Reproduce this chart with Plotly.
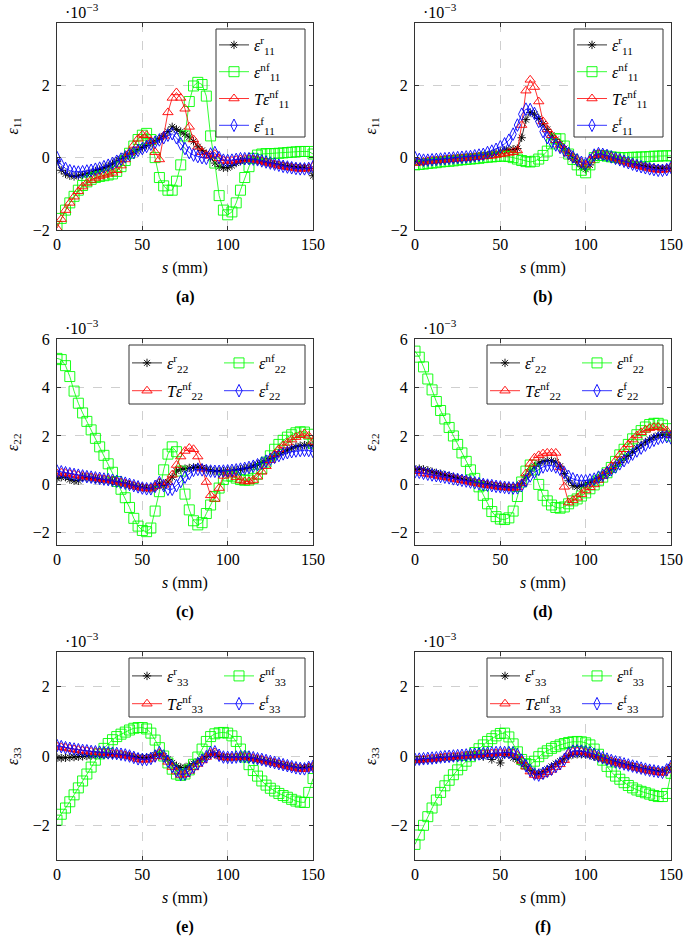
import plotly.graph_objects as go

# ---------------- data (strain values in units of 1e-3) ----------------
s_mm = [0, 2.5, 5, 7.5, 10, 12.5, 15, 17.5, 20, 22.5,
        25, 27.5, 30, 32.5, 35, 37.5, 40, 42.5, 45, 47.5,
        50, 52.5, 55, 57.5, 60, 62.5, 65, 67.5, 70, 72.5,
        75, 77.5, 80, 82.5, 85, 87.5, 90, 92.5, 95, 97.5,
        100, 102.5, 105, 107.5, 110, 112.5, 115, 117.5, 120, 122.5,
        125, 127.5, 130, 132.5, 135, 137.5, 140, 142.5, 145, 147.5,
        150]

# panel (a): eps_11
a_r = [-0.10, -0.35, -0.45, -0.50, -0.52, -0.50, -0.48, -0.45, -0.42, -0.37,
       -0.33, -0.28, -0.23, -0.17, -0.10, -0.03, 0.04, 0.10, 0.16, 0.22,
       0.28, 0.34, 0.40, 0.46, 0.52, 0.60, 0.72, 0.85, 0.78, 0.72,
       0.65, 0.57, 0.45, 0.30, 0.20, 0.11, 0.00, -0.15, -0.25, -0.28,
       -0.28, -0.22, -0.15, -0.10, -0.08, -0.06, -0.06, -0.08, -0.10, -0.13,
       -0.16, -0.18, -0.20, -0.22, -0.24, -0.25, -0.26, -0.27, -0.28, -0.30,
       -0.50]
a_nf = [-1.90, -1.68, -1.45, -1.25, -1.07, -0.90, -0.77, -0.67, -0.60, -0.55,
        -0.52, -0.50, -0.48, -0.45, -0.38, -0.25, -0.08, 0.12, 0.32, 0.50,
        0.62, 0.67, 0.50, 0.00, -0.55, -0.78, -0.90, -0.90, -0.65, -0.20,
        0.60, 1.55, 1.98, 2.08, 2.02, 1.70, 0.60, -0.15, -1.05, -1.45,
        -1.58, -1.50, -1.25, -0.90, -0.55, -0.25, -0.02, 0.07, 0.10, 0.11,
        0.11, 0.11, 0.12, 0.13, 0.14, 0.15, 0.16, 0.17, 0.17, 0.17,
        0.10]
a_T = [-1.95, -1.70, -1.45, -1.25, -1.08, -0.93, -0.80, -0.70, -0.62, -0.56,
       -0.52, -0.48, -0.45, -0.42, -0.35, -0.22, -0.05, 0.15, 0.35, 0.52,
       0.63, 0.62, 0.45, 0.15, -0.05, 0.60, 1.25, 1.65, 1.80, 1.65,
       1.35, 0.85, 0.50, 0.30, 0.15, 0.07, 0.05, 0.10, -0.02, -0.08,
       -0.10, -0.09, -0.07, -0.05, -0.04, -0.04, -0.05, -0.07, -0.10, -0.13,
       -0.16, -0.19, -0.22, -0.24, -0.26, -0.28, -0.30, -0.31, -0.31, -0.29,
       -0.25]
a_f = [0.00, -0.20, -0.30, -0.36, -0.39, -0.40, -0.39, -0.37, -0.35, -0.32,
       -0.29, -0.25, -0.21, -0.16, -0.10, -0.04, 0.02, 0.08, 0.14, 0.20,
       0.25, 0.31, 0.37, 0.43, 0.49, 0.55, 0.62, 0.66, 0.55, 0.38,
       0.25, 0.14, 0.07, 0.03, 0.00, -0.02, 0.10, 0.14, 0.00, -0.07,
       -0.08, -0.07, -0.05, -0.03, -0.03, -0.03, -0.04, -0.06, -0.09, -0.12,
       -0.15, -0.18, -0.21, -0.24, -0.26, -0.28, -0.30, -0.31, -0.31, -0.30,
       -0.25]

# panel (b): eps_11
b_r = [-0.10, -0.12, -0.12, -0.10, -0.09, -0.08, -0.07, -0.06, -0.05, -0.04,
       -0.03, -0.02, -0.01, 0.00, 0.01, 0.03, 0.05, 0.07, 0.10, 0.13,
       0.17, 0.20, 0.22, 0.23, 0.25, 0.55, 1.05, 1.25, 1.20, 1.08,
       0.93, 0.78, 0.62, 0.50, 0.38, 0.25, 0.12, -0.02, -0.12, -0.25,
       -0.32, -0.20, -0.02, 0.06, 0.05, 0.02, -0.02, -0.05, -0.08, -0.11,
       -0.14, -0.17, -0.20, -0.22, -0.24, -0.26, -0.28, -0.29, -0.30, -0.30,
       -0.28]
b_nf = [-0.20, -0.19, -0.18, -0.16, -0.15, -0.14, -0.12, -0.11, -0.10, -0.09,
        -0.07, -0.06, -0.05, -0.04, -0.03, -0.02, 0.00, 0.01, 0.02, 0.03,
        0.04, 0.04, 0.03, 0.00, -0.04, -0.08, -0.11, -0.12, -0.10, -0.04,
        0.06, 0.18, 0.38, 0.52, 0.52, 0.32, 0.10, -0.05, -0.20, -0.35,
        -0.42, -0.20, 0.00, 0.06, 0.06, 0.04, 0.02, 0.01, 0.00, 0.00,
        0.00, 0.01, 0.01, 0.02, 0.02, 0.03, 0.04, 0.04, 0.05, 0.05,
        0.05]
b_T = [-0.15, -0.14, -0.12, -0.10, -0.09, -0.08, -0.07, -0.06, -0.05, -0.04,
       -0.03, -0.02, -0.01, 0.00, 0.01, 0.02, 0.03, 0.04, 0.05, 0.07,
       0.09, 0.11, 0.13, 0.15, 0.20, 0.90, 1.85, 2.15, 1.95, 1.55,
       1.00, 0.78, 0.62, 0.48, 0.35, 0.22, 0.12, 0.02, -0.06, -0.14,
       -0.20, -0.08, 0.06, 0.10, 0.08, 0.05, 0.02, -0.02, -0.06, -0.10,
       -0.14, -0.18, -0.21, -0.24, -0.27, -0.30, -0.32, -0.34, -0.34, -0.32,
       -0.27]
b_f = [0.00, -0.05, -0.07, -0.07, -0.06, -0.05, -0.04, -0.03, -0.02, -0.01,
       0.00, 0.01, 0.02, 0.03, 0.05, 0.07, 0.09, 0.14, 0.18, 0.23,
       0.30, 0.38, 0.48, 0.65, 0.90, 1.20, 1.34, 1.33, 1.22, 1.00,
       0.72, 0.55, 0.43, 0.35, 0.28, 0.20, 0.12, 0.02, -0.06, -0.13,
       -0.17, -0.07, 0.07, 0.11, 0.09, 0.06, 0.02, -0.02, -0.06, -0.10,
       -0.14, -0.18, -0.22, -0.25, -0.28, -0.31, -0.33, -0.35, -0.35, -0.33,
       -0.27]

# panel (c): eps_22
c_r = [0.25, 0.30, 0.30, 0.20, 0.15, 0.15, 0.30, 0.28, 0.26, 0.23,
       0.20, 0.18, 0.16, 0.13, 0.10, 0.06, 0.02, -0.02, -0.06, -0.10,
       -0.12, -0.15, -0.17, -0.10, 0.05, -0.05, 0.10, 0.30, 0.55, 0.62,
       0.65, 0.68, 0.70, 0.72, 0.68, 0.62, 0.58, 0.55, 0.55, 0.55,
       0.56, 0.57, 0.60, 0.62, 0.66, 0.70, 0.76, 0.82, 0.90, 0.98,
       1.07, 1.16, 1.25, 1.34, 1.42, 1.50, 1.56, 1.60, 1.62, 1.63,
       1.60]
c_nf = [5.20, 5.15, 4.90, 4.45, 3.85, 3.35, 2.95, 2.60, 2.25, 1.90,
        1.55, 1.20, 0.85, 0.50, 0.12, -0.20, -0.55, -0.95, -1.40, -1.72,
        -1.90, -1.95, -1.80, -1.10, -0.30, 0.60, 1.25, 1.55, 1.35, 0.55,
        -0.40, -1.05, -1.50, -1.67, -1.58, -1.20, -0.85, -0.50, -0.15, 0.20,
        0.35, 0.34, 0.26, 0.20, 0.17, 0.18, 0.25, 0.42, 0.65, 0.92,
        1.18, 1.45, 1.65, 1.82, 1.95, 2.05, 2.13, 2.17, 2.16, 2.07,
        1.70]
c_T = [0.45, 0.48, 0.46, 0.43, 0.40, 0.37, 0.34, 0.31, 0.29, 0.26,
       0.24, 0.21, 0.19, 0.16, 0.12, 0.08, 0.04, -0.01, -0.06, -0.10,
       -0.14, -0.17, -0.17, -0.08, 0.08, -0.02, 0.10, 0.40, 0.80, 1.15,
       1.38, 1.50, 1.45, 1.15, 0.65, 0.10, -0.45, -0.60, -0.15, 0.35,
       0.45, 0.40, 0.30, 0.18, 0.12, 0.12, 0.18, 0.32, 0.52, 0.75,
       1.00, 1.25, 1.45, 1.60, 1.72, 1.85, 1.95, 2.03, 2.10, 2.00,
       1.75]
c_f = [0.55, 0.52, 0.48, 0.44, 0.41, 0.38, 0.35, 0.32, 0.30, 0.27,
       0.25, 0.22, 0.20, 0.17, 0.13, 0.09, 0.05, 0.00, -0.05, -0.10,
       -0.15, -0.18, -0.18, -0.08, 0.08, -0.05, -0.20, -0.20, -0.05, 0.12,
       0.30, 0.45, 0.58, 0.62, 0.60, 0.57, 0.55, 0.54, 0.54, 0.55,
       0.56, 0.58, 0.60, 0.63, 0.66, 0.70, 0.75, 0.81, 0.88, 0.96,
       1.04, 1.12, 1.19, 1.26, 1.31, 1.35, 1.38, 1.40, 1.41, 1.40,
       1.36]

# panel (d): eps_22
d_r = [0.60, 0.65, 0.62, 0.58, 0.52, 0.48, 0.44, 0.38, 0.35, 0.30,
       0.26, 0.22, 0.18, 0.14, 0.10, 0.06, 0.03, 0.00, -0.03, -0.06,
       -0.08, -0.10, -0.12, -0.13, -0.10, 0.05, 0.30, 0.55, 0.75, 0.88,
       0.95, 0.98, 0.98, 0.92, 0.75, 0.45, 0.15, -0.05, -0.10, -0.05,
       0.00, 0.08, 0.15, 0.25, 0.35, 0.47, 0.60, 0.75, 0.90, 1.05,
       1.20, 1.35, 1.50, 1.63, 1.75, 1.86, 1.95, 2.02, 2.06, 2.07,
       2.03]
d_nf = [5.50, 5.25, 4.85, 4.35, 3.90, 3.42, 3.05, 2.70, 2.35, 2.00,
        1.65, 1.30, 0.95, 0.60, 0.25, -0.10, -0.45, -0.80, -1.12, -1.33,
        -1.43, -1.45, -1.38, -1.10, -0.50, 0.10, 0.55, 0.80, 0.60, 0.00,
        -0.45, -0.68, -0.85, -0.95, -0.98, -0.93, -0.80, -0.68, -0.60, -0.48,
        -0.35, -0.18, -0.02, 0.15, 0.30, 0.48, 0.70, 0.95, 1.22, 1.45,
        1.65, 1.88, 2.05, 2.22, 2.37, 2.47, 2.52, 2.52, 2.45, 2.30,
        2.00]
d_T = [0.55, 0.55, 0.47, 0.43, 0.40, 0.37, 0.33, 0.30, 0.27, 0.23,
       0.20, 0.17, 0.14, 0.10, 0.06, 0.03, 0.00, -0.03, -0.05, -0.08,
       -0.10, -0.12, -0.14, -0.15, -0.12, 0.05, 0.45, 0.85, 1.10, 1.20,
       1.27, 1.30, 1.30, 1.30, 0.70, -0.10, -0.75, -0.65, -0.55, -0.40,
       -0.25, -0.12, 0.00, 0.18, 0.35, 0.55, 0.75, 0.98, 1.22, 1.45,
       1.65, 1.85, 2.02, 2.15, 2.25, 2.32, 2.36, 2.37, 2.33, 2.22,
       2.03]
d_f = [0.52, 0.50, 0.46, 0.42, 0.39, 0.36, 0.33, 0.30, 0.27, 0.23,
       0.20, 0.17, 0.14, 0.10, 0.07, 0.03, 0.00, -0.03, -0.05, -0.08,
       -0.10, -0.12, -0.14, -0.15, -0.14, -0.05, 0.15, 0.35, 0.50, 0.62,
       0.72, 0.78, 0.78, 0.72, 0.62, 0.48, 0.33, 0.23, 0.17, 0.15,
       0.15, 0.18, 0.22, 0.30, 0.38, 0.48, 0.60, 0.72, 0.85, 0.98,
       1.12, 1.25, 1.38, 1.50, 1.62, 1.73, 1.82, 1.90, 1.95, 1.97,
       1.92]

# panel (e): eps_33
e_r = [-0.05, -0.06, -0.05, -0.04, -0.03, -0.02, -0.01, 0.00, 0.01, 0.02,
       0.03, 0.03, 0.04, 0.04, 0.04, 0.03, 0.02, 0.00, -0.02, -0.04,
       -0.05, -0.05, -0.03, 0.02, 0.07, 0.00, -0.10, -0.20, -0.28, -0.33,
       -0.33, -0.28, -0.22, -0.15, -0.08, -0.02, 0.05, 0.05, -0.01, -0.03,
       -0.04, -0.04, -0.04, -0.04, -0.05, -0.06, -0.08, -0.10, -0.12, -0.15,
       -0.18, -0.20, -0.23, -0.26, -0.29, -0.31, -0.33, -0.34, -0.34, -0.32,
       -0.30]
e_nf = [-1.85, -1.68, -1.50, -1.32, -1.12, -0.92, -0.72, -0.52, -0.32, -0.12,
        0.06, 0.22, 0.36, 0.47, 0.56, 0.63, 0.69, 0.75, 0.80, 0.82,
        0.82, 0.78, 0.66, 0.46, 0.24, 0.00, -0.20, -0.38, -0.52, -0.56,
        -0.52, -0.40, -0.24, -0.03, 0.20, 0.42, 0.56, 0.64, 0.67, 0.68,
        0.66, 0.58, 0.42, 0.20, -0.03, -0.25, -0.42, -0.58, -0.72, -0.84,
        -0.93, -1.01, -1.08, -1.14, -1.19, -1.25, -1.30, -1.33, -1.34, -1.05,
        -0.65]
e_T = [0.27, 0.25, 0.23, 0.21, 0.19, 0.17, 0.15, 0.14, 0.12, 0.11,
       0.10, 0.09, 0.08, 0.07, 0.06, 0.04, 0.02, -0.01, -0.05, -0.09,
       -0.11, -0.11, -0.08, -0.01, 0.08, -0.02, -0.17, -0.32, -0.45, -0.55,
       -0.53, -0.43, -0.33, -0.23, -0.13, -0.03, 0.08, 0.10, 0.01, -0.04,
       -0.05, -0.05, -0.04, -0.03, -0.03, -0.04, -0.06, -0.09, -0.11, -0.14,
       -0.17, -0.20, -0.23, -0.26, -0.29, -0.32, -0.35, -0.37, -0.38, -0.34,
       -0.31]
e_f = [0.30, 0.27, 0.24, 0.22, 0.20, 0.18, 0.16, 0.15, 0.13, 0.12,
       0.11, 0.10, 0.09, 0.08, 0.07, 0.05, 0.03, 0.00, -0.04, -0.08,
       -0.10, -0.10, -0.07, 0.00, 0.10, 0.00, -0.15, -0.30, -0.43, -0.53,
       -0.52, -0.42, -0.32, -0.22, -0.12, -0.02, 0.10, 0.12, 0.02, -0.03,
       -0.04, -0.04, -0.03, -0.02, -0.02, -0.03, -0.05, -0.08, -0.10, -0.13,
       -0.16, -0.19, -0.22, -0.25, -0.28, -0.31, -0.34, -0.36, -0.37, -0.33,
       -0.30]

# panel (f): eps_33
f_r = [-0.12, -0.12, -0.10, -0.10, -0.08, -0.08, -0.05, -0.05, -0.05, -0.04,
       -0.03, -0.02, 0.00, 0.00, 0.02, 0.02, -0.02, 0.05, -0.10, 0.05,
       -0.20, 0.05, 0.05, -0.05, -0.10, -0.20, -0.30, -0.42, -0.50, -0.50,
       -0.45, -0.38, -0.30, -0.22, -0.15, -0.08, 0.00, 0.04, 0.05, 0.05,
       0.04, 0.02, -0.02, -0.05, -0.08, -0.12, -0.15, -0.18, -0.21, -0.24,
       -0.27, -0.30, -0.33, -0.36, -0.38, -0.40, -0.42, -0.44, -0.45, -0.40,
       -0.32]
f_nf = [-2.55, -2.28, -2.00, -1.75, -1.50, -1.27, -1.05, -0.86, -0.70, -0.54,
        -0.40, -0.27, -0.15, -0.02, 0.10, 0.21, 0.32, 0.42, 0.50, 0.58,
        0.65, 0.66, 0.55, 0.35, 0.12, -0.10, -0.22, -0.25, -0.15, -0.02,
        0.08, 0.15, 0.22, 0.27, 0.32, 0.36, 0.39, 0.41, 0.42, 0.41,
        0.38, 0.32, 0.20, 0.05, -0.12, -0.30, -0.46, -0.58, -0.67, -0.77,
        -0.85, -0.92, -0.98, -1.02, -1.06, -1.10, -1.14, -1.17, -1.17, -1.08,
        -0.50]
f_T = [-0.12, -0.11, -0.10, -0.09, -0.08, -0.07, -0.05, -0.04, -0.03, -0.02,
       -0.01, 0.00, 0.01, 0.02, 0.03, 0.04, 0.05, 0.06, 0.07, 0.08,
       0.08, 0.08, 0.08, 0.07, 0.02, -0.14, -0.31, -0.45, -0.55, -0.58,
       -0.53, -0.47, -0.40, -0.32, -0.24, -0.12, 0.06, 0.12, 0.13, 0.12,
       0.10, 0.07, 0.03, -0.02, -0.07, -0.11, -0.15, -0.19, -0.22, -0.25,
       -0.28, -0.31, -0.34, -0.37, -0.40, -0.43, -0.45, -0.47, -0.49, -0.42,
       -0.32]
f_f = [-0.10, -0.09, -0.08, -0.07, -0.06, -0.05, -0.03, -0.02, -0.01, 0.00,
       0.01, 0.02, 0.03, 0.04, 0.05, 0.06, 0.07, 0.08, 0.09, 0.10,
       0.10, 0.10, 0.10, 0.09, 0.04, -0.12, -0.28, -0.42, -0.52, -0.55,
       -0.50, -0.44, -0.38, -0.30, -0.22, -0.10, 0.08, 0.14, 0.15, 0.14,
       0.12, 0.09, 0.05, 0.00, -0.05, -0.09, -0.13, -0.17, -0.20, -0.23,
       -0.26, -0.29, -0.32, -0.35, -0.38, -0.41, -0.43, -0.45, -0.47, -0.40,
       -0.30]

panel_labels = ["(a)", "(b)", "(c)", "(d)", "(e)", "(f)"]
components = ["11", "11", "22", "22", "33", "33"]
x_ticks = [0, 50, 100, 150]
y_ranges = [[-2, 3.72], [-2.5, 6], [-3, 3]]
y_ticks = [[-2, 0, 2], [-2, 0, 2, 4, 6], [-2, 0, 2]]

panels = [
    (a_r, a_nf, a_T, a_f),
    (b_r, b_nf, b_T, b_f),
    (c_r, c_nf, c_T, c_f),
    (d_r, d_nf, d_T, d_f),
    (e_r, e_nf, e_T, e_f),
    (f_r, f_nf, f_T, f_f),
]
for p in panels:
    for arr in p:
        assert len(arr) == len(s_mm), len(arr)

# ---------------- layout geometry (screen pixels) ----------------
W, H = 685, 936
cols = [(57, 313), (415, 671)]
rows = [(23, 230), (339, 545), (652, 860)]
FONT = "Liberation Serif, DejaVu Serif, serif"
FS = 16

def px_x(v):
    return v / W

def px_y(v):
    return 1 - v / H

styles = [
    dict(color="#000000", symbol="asterisk-open", size=7),
    dict(color="#00ff00", symbol="square-open", size=10),
    dict(color="#ff0000", symbol="triangle-up-open", size=9),
    dict(color="#0000ff", symbol="diamond-tall-open", size=9),
]

fig = go.Figure()
layout = dict(
    width=W, height=H,
    margin=dict(l=0, r=0, t=0, b=0, pad=0, autoexpand=False),
    paper_bgcolor="white", plot_bgcolor="white",
    font=dict(family=FONT, size=FS, color="black"),
    showlegend=True,
)
annotations = []
shapes = []

def note(text, x, y, xanchor="center", yanchor="middle", **kw):
    annotations.append(dict(text=text, xref="paper", yref="paper", x=x, y=y,
                            xanchor=xanchor, yanchor=yanchor, showarrow=False,
                            font=dict(family=FONT, size=FS, color="black"), **kw))

for k in range(6):
    r, c = divmod(k, 2)
    x0, x1 = cols[c]
    y0, y1 = rows[r]
    sfx = "" if k == 0 else str(k + 1)
    comp = components[k]
    names = [
        f"<i>ε</i><sup>r</sup><sub>{comp}</sub>",
        f"<i>ε</i><sup>nf</sup><sub>{comp}</sub>",
        f"<i>T</i><i>ε</i><sup>nf</sup><sub>{comp}</sub>",
        f"<i>ε</i><sup>f</sup><sub>{comp}</sub>",
    ]
    if r == 0:
        legends = ["legend" + sfx] * 4
    else:
        l1 = "legend" + str(10 + 2 * k)
        l2 = "legend" + str(11 + 2 * k)
        legends = [l1, l2, l1, l2]

    for j, (vals, st) in enumerate(zip(panels[k], styles)):
        fig.add_trace(go.Scatter(
            x=s_mm, y=vals, mode="lines+markers", name=names[j],
            xaxis="x" + sfx, yaxis="y" + sfx,
            line=dict(color=st["color"], width=0.8),
            marker=dict(symbol=st["symbol"], size=st["size"], color=st["color"],
                        line=dict(color=st["color"], width=0.9)),
            legend=legends[j], legendgroup=f"g{k}_{j}",
        ))

    ax = dict(
        showline=True, mirror="allticks", linecolor="#333333", linewidth=1,
        ticks="inside", ticklen=4, tickcolor="#333333",
        showgrid=True, gridcolor="#cfcfcf", griddash="dash", gridwidth=1,
        zeroline=False, tickfont=dict(family=FONT, size=FS, color="black"),
        automargin=False,
    )
    layout["xaxis" + sfx] = dict(ax, domain=[px_x(x0), px_x(x1)], range=[0, 150],
                                 tickvals=x_ticks, anchor="y" + sfx)
    layout["yaxis" + sfx] = dict(ax, domain=[px_y(y1), px_y(y0)], range=y_ranges[r],
                                 tickvals=y_ticks[r], anchor="x" + sfx,
                                 ticklabelstandoff=3)

    # axis titles and panel labels
    note(f"<i>ε</i><sub>{comp}</sub>", px_x(x0 - 44), px_y((y0 + y1) / 2), textangle=-90)
    note("<i>s</i> (mm)", px_x((x0 + x1) / 2), px_y(y1 + 38))
    note("<b>" + panel_labels[k] + "</b>", px_x((x0 + x1) / 2), px_y(y1 + 67))
    note("·10<sup>−3</sup>", px_x(x0 + 6), px_y(y0 - 12), xanchor="left")

    # legend boxes
    if r == 0:
        bx0, by0, bx1, by1 = x1 - 97, y0 + 6, x1 - 8, y0 + 114
        layout["legend" + sfx] = dict(
            x=px_x(bx0 - 2), y=px_y(by0 - 1), xanchor="left", yanchor="top",
            bgcolor="rgba(0,0,0,0)", borderwidth=0, traceorder="grouped",
            tracegroupgap=3, font=dict(family=FONT, size=FS),
        )
    else:
        bx0, by0, bx1, by1 = x1 - 184, y0 + 6, x1 - 8, y0 + 65
        for m, off in enumerate([-2, 90]):
            layout["legend" + str(10 + 2 * k + m)] = dict(
                x=px_x(bx0 + off), y=px_y(by0 + 1), xanchor="left", yanchor="top",
                bgcolor="rgba(0,0,0,0)", borderwidth=0, traceorder="grouped",
                tracegroupgap=4, font=dict(family=FONT, size=FS),
            )
    shapes.append(dict(type="rect", xref="paper", yref="paper",
                       x0=px_x(bx0), x1=px_x(bx1), y0=px_y(by1), y1=px_y(by0),
                       line=dict(color="#333333", width=1), fillcolor="white",
                       layer="above"))

layout["annotations"] = annotations
layout["shapes"] = shapes
fig.update_layout(**layout)
fig.write_html("out.html", config={"displayModeBar": False},
               post_script="document.body.style.margin='0';document.body.style.overflow='hidden';")
